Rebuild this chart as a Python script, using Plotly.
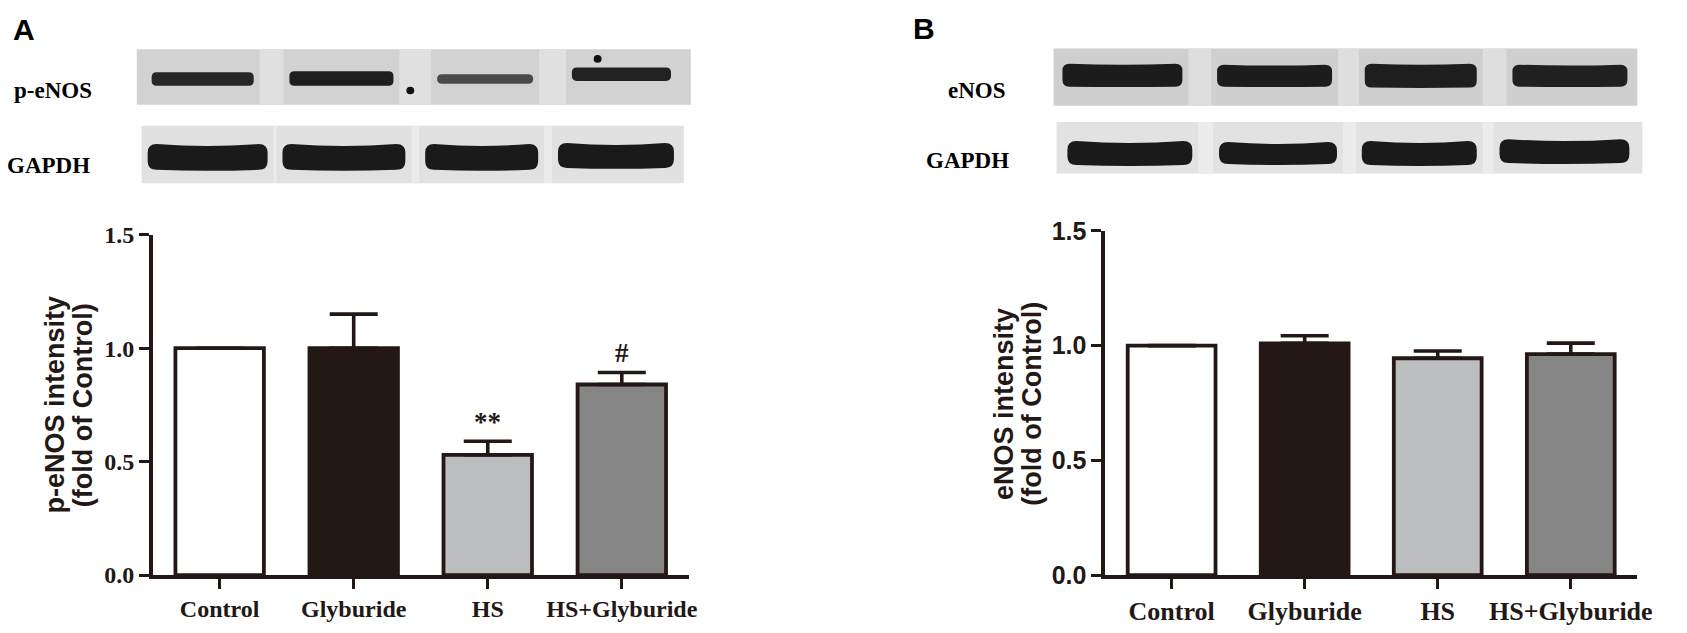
import plotly.graph_objects as go

W, H = 1687, 633

categories = ["Control", "Glyburide", "HS", "HS+Glyburide"]
peNOS_mean = [1.0, 1.0, 0.53, 0.84]
peNOS_sem = [0.0, 0.15, 0.06, 0.053]
eNOS_mean = [1.0, 1.01, 0.945, 0.963]
eNOS_sem = [0.0, 0.033, 0.032, 0.048]
bar_colors = ["#ffffff", "#231815", "#bcbdbf", "#858585"]
sig_A = ["", "", "**", "#"]
sig_B = ["", "", "", ""]
y_ticks = [0.0, 0.5, 1.0, 1.5]
y_tick_labels = ["0.0", "0.5", "1.0", "1.5"]

INK = "#231815"
SERIF = "Liberation Serif, Times New Roman, serif"
SANS = "Liberation Sans, Arial, sans-serif"


def px(x):
    return x / W


def py(y):
    return 1 - y / H


fig = go.Figure()

panels = [
    dict(x="x", y="y", mean=peNOS_mean, sem=peNOS_sem, sig=sig_A),
    dict(x="x2", y="y2", mean=eNOS_mean, sem=eNOS_sem, sig=sig_B),
]
for p in panels:
    fig.add_trace(go.Bar(
        x=categories, y=p["mean"], xaxis=p["x"], yaxis=p["y"],
        width=0.66,
        marker=dict(color=bar_colors, line=dict(color=INK, width=3.8)),
        error_y=dict(type="data", symmetric=False, array=p["sem"],
                     arrayminus=[0] * len(p["sem"]), color=INK,
                     thickness=3.6, width=24),
        showlegend=False, hoverinfo="skip",
    ))
    for c, m, s, t in zip(categories, p["mean"], p["sem"], p["sig"]):
        if t:
            fig.add_annotation(x=c, y=m + s, xref=p["x"], yref=p["y"], text="<b>" + t + "</b>",
                               showarrow=False, xanchor="center", yanchor="bottom", yshift=2,
                               font=dict(family=SERIF, size=27, color=INK))

axis_common = dict(showline=True, linewidth=3.6, linecolor=INK, ticks="outside",
                   tickcolor=INK, tickwidth=3, showgrid=False, zeroline=False)

fig.update_layout(
    width=W, height=H, margin=dict(l=0, r=0, t=0, b=0),
    paper_bgcolor="white", plot_bgcolor="white",
    xaxis=dict(domain=[px(154), px(695)], range=[-0.5, 3.5], anchor="y", ticklen=10,
               tickfont=dict(family=SERIF, size=24, color=INK, weight="bold"), **axis_common),
    yaxis=dict(domain=[py(587), py(231)], range=[0, 1.5], anchor="x", ticklen=10,
               tickvals=y_ticks, ticktext=y_tick_labels,
               tickfont=dict(family=SERIF, size=24, color=INK, weight="bold"), **axis_common),
    xaxis2=dict(domain=[px(1115), px(1652)], range=[-0.5, 3.5], anchor="y2", ticklen=10,
                tickfont=dict(family=SERIF, size=26, color=INK, weight="bold"), **axis_common),
    yaxis2=dict(domain=[py(587), py(227)], range=[0, 1.5], anchor="x2", ticklen=10,
                tickvals=y_ticks, ticktext=y_tick_labels,
                tickfont=dict(family=SANS, size=25, color=INK, weight="bold"), **axis_common),
)

# y-axis titles (two lines each, placed separately for exact spacing)
titles = [
    ("p-eNOS intensity", 55, 409), ("(fold of Control)", 84, 409),
    ("eNOS intensity", 1013, 408), ("(fold of Control)", 1041, 408),
]
for txt, x, y in titles:
    fig.add_annotation(x=px(x), y=py(y), xref="paper", yref="paper", textangle=-90,
                       xanchor="center", yanchor="middle",
                       text="<b>" + txt + "</b>", showarrow=False,
                       font=dict(family=SANS, size=27, color=INK))

# panel letters
for txt, x, y in [("A", 24, 16), ("B", 932, 15)]:
    fig.add_annotation(x=px(x), y=py(y), xref="paper", yref="paper", xanchor="center", yanchor="middle",
                       text="<b>" + txt + "</b>", showarrow=False,
                       font=dict(family=SANS, size=30, color="#000"))

# blot labels
for txt, x, y in [("p-eNOS", 53, 80), ("GAPDH", 49, 158), ("eNOS", 986, 80), ("GAPDH", 976, 153)]:
    fig.add_annotation(x=px(x), y=py(y), xref="paper", yref="paper", xanchor="center", yanchor="middle",
                       text="<b>" + txt + "</b>", showarrow=False,
                       font=dict(family=SERIF, size=23, color="#000"))


# western blot decorations (drawn as shapes)
def band_path(x0, x1, y0, y1, r, sag):
    xm = (x0 + x1) / 2
    pts = [
        f"M {px(x0 + r)},{py(y0)}",
        f"Q {px(xm)},{py(y0 + 2 * sag)} {px(x1 - r)},{py(y0)}",
        f"Q {px(x1)},{py(y0)} {px(x1)},{py(y0 + r)}",
        f"L {px(x1)},{py(y1 - r)}",
        f"Q {px(x1)},{py(y1)} {px(x1 - r)},{py(y1)}",
        f"Q {px(xm)},{py(y1 + sag)} {px(x0 + r)},{py(y1)}",
        f"Q {px(x0)},{py(y1)} {px(x0)},{py(y1 - r)}",
        f"L {px(x0)},{py(y0 + r)}",
        f"Q {px(x0)},{py(y0)} {px(x0 + r)},{py(y0)} Z",
    ]
    return " ".join(pts)


blots = [
    dict(box=(138, 697, 37, 95), bg="#d2d2d2", gap="#e0e0e0",
         bands=[(153, 256, 61, 75, "#262626"), (292, 397, 60, 75, "#1e1e1e"),
                (441, 538, 63, 73, "#4a4a4a"), (577, 677, 56, 70, "#222222")], r=5, sag=0),
    dict(box=(143, 690, 117, 177), bg="#e1e1e1", gap="#ebebeb",
         bands=[(149, 270, 136, 163, "#1a1a1a"), (285, 409, 136, 163, "#1a1a1a"),
                (429, 543, 136, 163, "#1a1a1a"), (563, 680, 135, 161, "#1a1a1a")], r=9, sag=2),
    dict(box=(1063, 1652, 36, 96), bg="#cfcfcf", gap="#dedede",
         bands=[(1072, 1193, 52, 76, "#1c1c1c"), (1228, 1344, 53, 76, "#1c1c1c"),
                (1377, 1490, 52, 77, "#1e1e1e"), (1526, 1642, 53, 76, "#202020")], r=7, sag=1),
    dict(box=(1066, 1657, 113, 167), bg="#e2e2e2", gap="#ececec",
         bands=[(1077, 1203, 133, 158, "#1a1a1a"), (1230, 1349, 134, 157, "#1a1a1a"),
                (1374, 1490, 133, 158, "#1a1a1a"), (1513, 1644, 131, 156, "#1a1a1a")], r=9, sag=2),
]
for b in blots:
    x0, x1, y0, y1 = b["box"]
    fig.add_shape(type="rect", xref="paper", yref="paper", x0=px(x0), x1=px(x1), y0=py(y0), y1=py(y1),
                  fillcolor=b["bg"], line=dict(width=0), layer="below")
    bands = b["bands"]
    for (a0, a1, *_), (c0, c1, *_) in zip(bands[:-1], bands[1:]):
        g0, g1 = a1 + 6, c0 - 6
        fig.add_shape(type="rect", xref="paper", yref="paper", x0=px(g0), x1=px(g1), y0=py(y0), y1=py(y1),
                      fillcolor=b["gap"], line=dict(width=0), layer="below")
    for (b0, b1, t0, t1, col) in bands:
        fig.add_shape(type="path", xref="paper", yref="paper", path=band_path(b0, b1, t0, t1, b["r"], b["sag"]),
                      fillcolor=col, line=dict(width=0))

# specks on the p-eNOS blot
fig.add_shape(type="circle", xref="paper", yref="paper", x0=px(410), x1=px(418), y0=py(76), y1=py(84),
              fillcolor="#111", line=dict(width=0))
fig.add_shape(type="circle", xref="paper", yref="paper", x0=px(599), x1=px(607), y0=py(43), y1=py(51),
              fillcolor="#111", line=dict(width=0))

fig.write_html("out.html", config={"displayModeBar": False, "staticPlot": True},
               post_script="document.body.style.margin='0';document.body.style.overflow='hidden';")
